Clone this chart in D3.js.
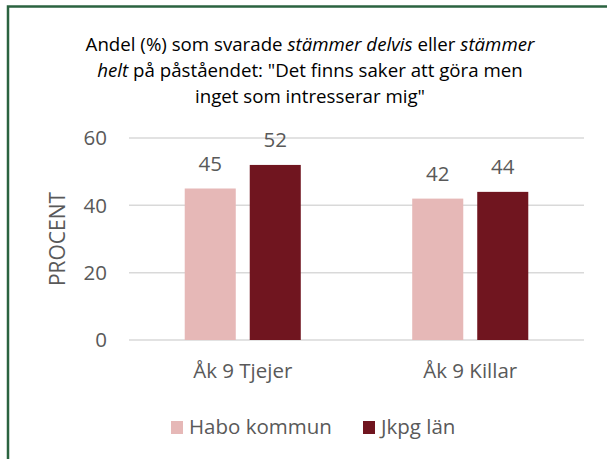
<!DOCTYPE html>
<html>
<head>
<meta charset="utf-8">
<script src="https://cdn.jsdelivr.net/npm/d3@7"></script>
<style>
  body { margin: 0; background: #fff; }
  text { font-family: 'Open Sans', sans-serif; fill: #595959; }
</style>
</head>
<body>
<svg id="chart" width="607" height="459"></svg>
<script>
var categories = ['Åk 9 Tjejer', 'Åk 9 Killar']
var series = ['Habo kommun', 'Jkpg län']
var habo = [45, 42]
var jkpg = [52, 44]
var yTicks = [0, 20, 40, 60]

var color = {'Habo kommun': '#e6b8b7', 'Jkpg län': '#70151f'}
var fs = '20.5px'

var svg = d3.select('#chart')

// frame, only top and left edges show in the picture
svg.append('rect')
  .attr('x', 8).attr('y', 6.5)
  .attr('width', 640).attr('height', 500)
  .attr('fill', 'none')
  .attr('stroke', '#2b6340')
  .attr('stroke-width', 2.5)

// title
var titleLines = [
  [['Andel (%) som svarade ', 0], ['stämmer delvis', 1], [' eller ', 0], ['stämmer', 1]],
  [['helt', 1], [' på påståendet: "Det finns saker att göra men', 0]],
  [['inget som intresserar mig"', 0]]
]
var title = svg.append('text')
  .attr('text-anchor', 'middle')
  .style('font-size', '18.7px')
  .style('fill', '#000')
titleLines.forEach(function(line, i) {
  line.forEach(function(part, j) {
    var t = title.append('tspan').text(part[0]).style('font-style', part[1] ? 'italic' : 'normal')
    if (j == 0) t.attr('x', 310).attr('y', 51 + i * 26)
  })
})

var data = categories.map(function(c, i) {
  return {cat: c, values: [{s: series[0], v: habo[i]}, {s: series[1], v: jkpg[i]}]}
})

var x0 = d3.scaleBand().domain(categories).range([129, 584])
var x1 = d3.scaleBand().domain(series).range([0, x0.bandwidth()])
  .paddingInner(0.215).paddingOuter(0.857)
var y = d3.scaleLinear().domain([0, 60]).range([340, 138])

// gridlines
svg.append('g')
  .selectAll('line').data(yTicks).join('line')
  .attr('x1', 129).attr('x2', 584)
  .attr('y1', d => y(d)).attr('y2', d => y(d))
  .attr('stroke', '#d9d9d9').attr('stroke-width', 1.5)

// y tick labels
svg.append('g')
  .selectAll('text').data(yTicks).join('text')
  .attr('x', 107).attr('y', d => y(d))
  .attr('dy', '.35em')
  .attr('text-anchor', 'end')
  .style('font-size', fs)
  .text(d => d)

svg.append('text')
  .attr('transform', 'translate(65,239) rotate(-90)')
  .attr('text-anchor', 'middle')
  .style('font-size', '21px')
  .text('PROCENT')

var group = svg.append('g')
  .selectAll('g').data(data).join('g')
  .attr('transform', d => 'translate(' + x0(d.cat) + ',0)')

group.selectAll('rect').data(d => d.values).join('rect')
  .attr('x', d => x1(d.s))
  .attr('width', x1.bandwidth())
  .attr('y', d => y(d.v))
  .attr('height', d => y(0) - y(d.v))
  .attr('fill', d => color[d.s])

group.selectAll('text.val').data(d => d.values).join('text')
  .attr('class', 'val')
  .attr('x', d => x1(d.s) + x1.bandwidth() / 2)
  .attr('y', d => y(d.v) - 18)
  .attr('text-anchor', 'middle')
  .style('font-size', fs)
  .text(d => d.v)

// category labels
svg.append('g')
  .selectAll('text').data(categories).join('text')
  .attr('x', d => x0(d) + x0.bandwidth() / 2)
  .attr('y', 378)
  .attr('text-anchor', 'middle')
  .style('font-size', fs)
  .text(d => d)

// legend
var legendX = [171, 363]
var legend = svg.append('g')
  .selectAll('g').data(series).join('g')
  .attr('transform', (d, i) => 'translate(' + legendX[i] + ',421)')
legend.append('rect')
  .attr('width', 12).attr('height', 13)
  .attr('fill', d => color[d])
legend.append('text')
  .attr('x', 18).attr('y', 13)
  .style('font-size', fs)
  .text(d => d)
</script>
</body>
</html>
